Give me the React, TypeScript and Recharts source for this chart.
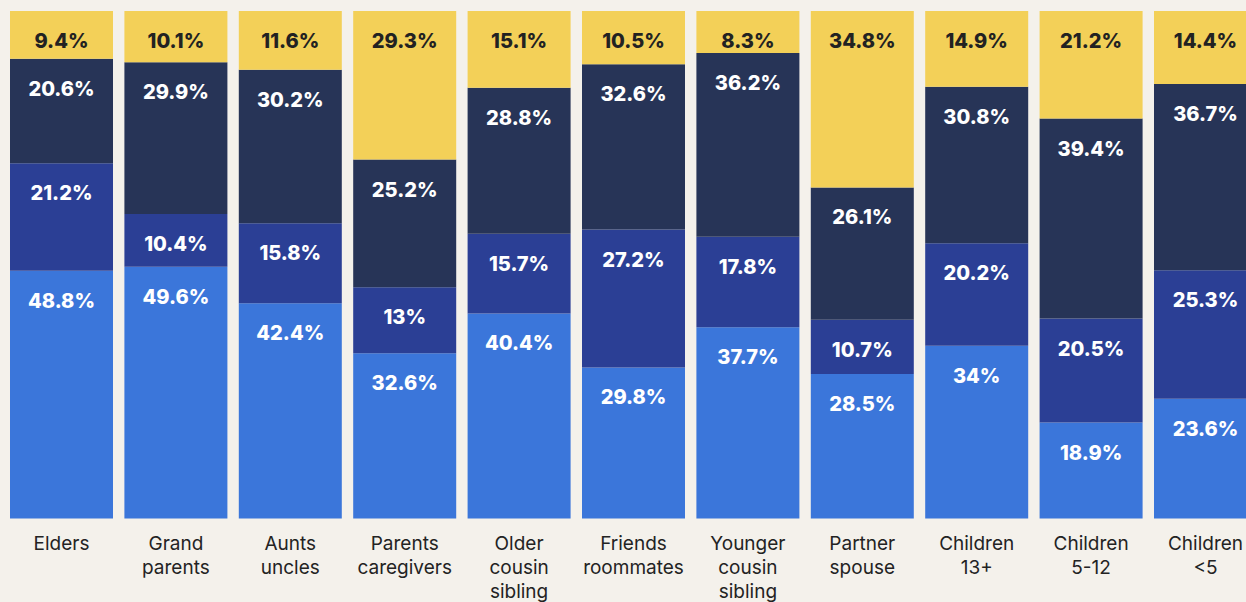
import React from 'react'
import { BarChart, Bar, XAxis, YAxis, LabelList } from 'recharts'

const categories = [
  'Elders',
  'Grand parents',
  'Aunts uncles',
  'Parents caregivers',
  'Older cousin sibling',
  'Friends roommates',
  'Younger cousin sibling',
  'Partner spouse',
  'Children 13+',
  'Children 5-12',
  'Children <5',
]

// stacked bottom -> top
const lightBlue = [48.8, 49.6, 42.4, 32.6, 40.4, 29.8, 37.7, 28.5, 34, 18.9, 23.6]
const midBlue = [21.2, 10.4, 15.8, 13, 15.7, 27.2, 17.8, 10.7, 20.2, 20.5, 25.3]
const navy = [20.6, 29.9, 30.2, 25.2, 28.8, 32.6, 36.2, 26.1, 30.8, 39.4, 36.7]
const yellow = [9.4, 10.1, 11.6, 29.3, 15.1, 10.5, 8.3, 34.8, 14.9, 21.2, 14.4]

const data = categories.map((name, i) => ({
  name,
  light: lightBlue[i],
  mid: midBlue[i],
  navy: navy[i],
  yellow: yellow[i],
}))

const BG = '#F4F1EB'

const makeLabel = (fill: string) => (props: any) => {
  const { x, y, width, value } = props
  return (
    <text
      x={Number(x) + Number(width) / 2}
      y={Number(y) + 37}
      textAnchor="middle"
      fill={fill}
      fontFamily="Inter, 'DejaVu Sans', sans-serif"
      fontWeight={800}
      fontSize={20}
    >
      {value}%
    </text>
  )
}

const CategoryTick = (props: any) => {
  const { x, y, payload } = props
  const words = String(payload.value).split(' ')
  return (
    <text
      x={x}
      y={y}
      textAnchor="middle"
      fill="#232323"
      fontFamily="Inter, 'DejaVu Sans', sans-serif"
      fontSize={19}
    >
      {words.map((w, i) => (
        <tspan key={i} x={x} y={Number(y) + 31.5 + i * 24}>
          {w}
        </tspan>
      ))}
    </text>
  )
}

export default function App() {
  return (
    <div
      style={{
        position: 'fixed',
        left: 0,
        top: 0,
        width: 1246,
        height: 602,
        overflow: 'hidden',
        background: BG,
      }}
    >
      <BarChart
        width={1266}
        height={602}
        data={data}
        stackOffset="expand"
        barCategoryGap={5.7}
        margin={{ top: 11, right: 3.3, left: 4.3, bottom: 0 }}
      >
        <XAxis
          dataKey="name"
          axisLine={false}
          tickLine={false}
          tickSize={0}
          tickMargin={0}
          height={83.5}
          interval={0}
          tick={<CategoryTick />}
        />
        <YAxis hide domain={[0, 1]} />
        <Bar dataKey="light" stackId="a" fill="#3B76DA" isAnimationActive={false}>
          <LabelList dataKey="light" content={makeLabel('#FFFFFF')} />
        </Bar>
        <Bar dataKey="mid" stackId="a" fill="#2B3F95" isAnimationActive={false}>
          <LabelList dataKey="mid" content={makeLabel('#FFFFFF')} />
        </Bar>
        <Bar dataKey="navy" stackId="a" fill="#273457" isAnimationActive={false}>
          <LabelList dataKey="navy" content={makeLabel('#FFFFFF')} />
        </Bar>
        <Bar dataKey="yellow" stackId="a" fill="#F3D058" isAnimationActive={false}>
          <LabelList dataKey="yellow" content={makeLabel('#222222')} />
        </Bar>
      </BarChart>
    </div>
  )
}
